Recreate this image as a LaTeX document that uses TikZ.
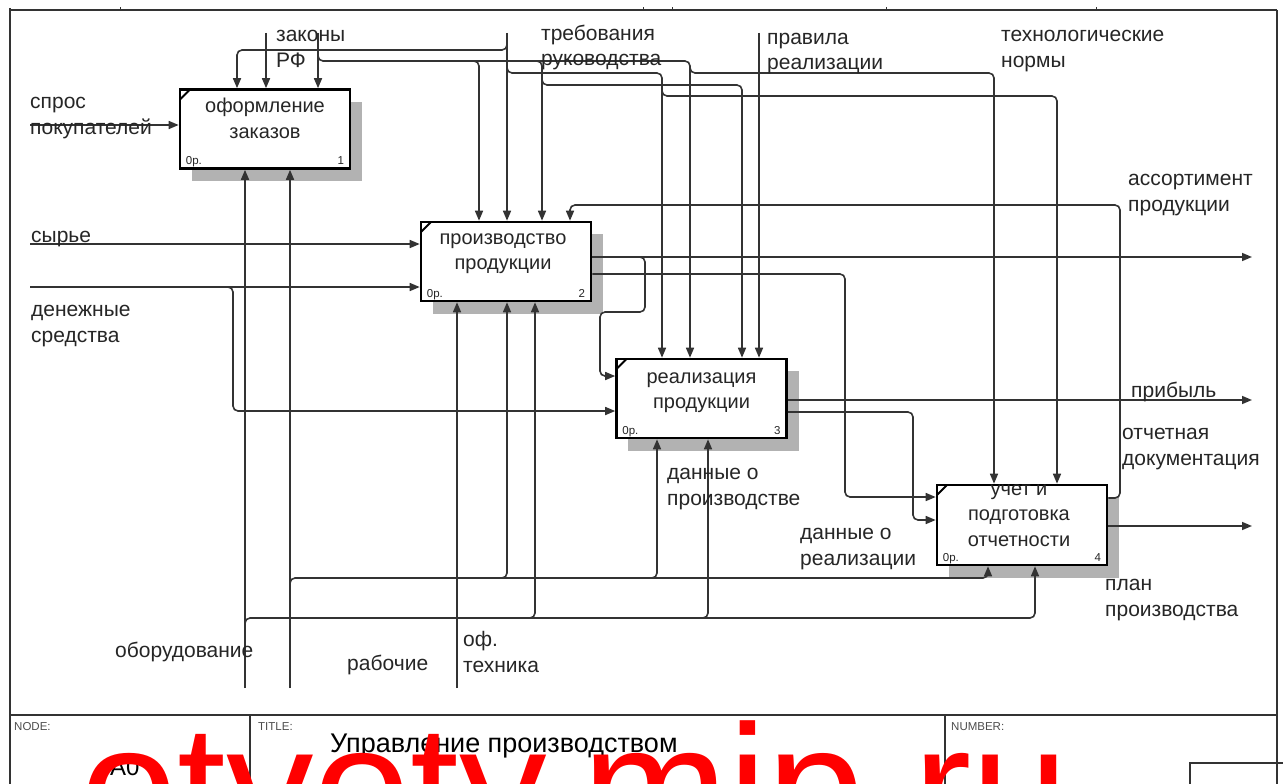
\documentclass[tikz,border=0pt]{standalone}
\usepackage{fontspec}
\setmainfont{Liberation Sans}
\usetikzlibrary{arrows.meta,patterns,calc}
\newcommand{\lblfont}{\fontsize{21}{25.5}\selectfont}
\newcommand{\boxfont}{\fontsize{20}{25.5}\selectfont}
\newcommand{\numfont}{\fontsize{11.5}{13}\selectfont}
\begin{document}
\begin{tikzpicture}[x=1pt,y=-1pt,
  box/.style={draw=black, line width=2.6pt, fill=white, minimum width=170pt, minimum height=79pt, inner sep=0pt},
  con/.style={draw=black!80, line width=1.6pt, rounded corners=5pt},
  arr/.style={con, -{Triangle[length=10pt,width=8pt]}},
  lbl/.style={font=\lblfont, text=black!85, inner sep=0pt, anchor=base west, align=left},
  btxt/.style={font=\boxfont, text=black!85, inner sep=0pt, anchor=base, align=center},
  num/.style={font=\numfont, text=black!85, inner sep=0pt},
  shadow/.style={fill=black!30},
  frame/.style={draw=black!80, line width=2pt}
]
\useasboundingbox (0,0) rectangle (1283,784);
\clip (0,0) rectangle (1283,784);
\fill[white] (0,0) rectangle (1283,784);

% frame
\draw[frame] (10,10) -- (1277,10);
\draw[frame, line width=2.6pt] (10,8) -- (10,784);
\draw[frame] (1277,10) -- (1277,784);
\foreach \tx in {120,643,672,886,1096} \draw[frame, line width=1pt] (\tx,10) -- (\tx,7);

% free ends
\coordinate (sZ) at (266,33);
\coordinate (sZ2) at (318,33);
\coordinate (sT) at (507,33);
\coordinate (sP) at (759,33);
\coordinate (iS) at (30,125);
\coordinate (iR) at (30,244);
\coordinate (iD) at (30,287);
\coordinate (oA) at (1252,257);
\coordinate (oP) at (1252,400);
\coordinate (oO) at (1252,526);
\coordinate (mO) at (245,688);
\coordinate (mR) at (290,688);
\coordinate (mT) at (457,688);

% shadows
\fill[shadow] (192,102) rectangle (362,181);
\fill[shadow] (433,234) rectangle (603,314);
\fill[shadow] (628,371) rectangle (799,451);
\fill[shadow] (949,497) rectangle (1119,578);

% boxes
\node[box] (b1) at (265,129) {};
\node[box] (b2) at (506,261.5) {};
\node[box] (b3) at (701.5,398.5) {};
\node[box, minimum height=80pt] (b4) at (1022,525) {};
\foreach \b in {b1,b2,b3,b4} {
  \draw[line width=2pt] ($(\b.north west)+(1.3,11.3)$) -- ($(\b.north west)+(11.3,1.3)$);
}

% box texts
\node[btxt] (t1) at ($(b1.center)+(0,9)$) {оформление\\заказов};
\node[btxt] (t2) at ($(b2.center)+(-3,8)$) {производство\\продукции};
\node[btxt] (t3) at ($(b3.center)+(0,10)$) {реализация\\продукции};
\node[btxt] (t4) at ($(b4.center)+(-3,21)$) {учет и\\подготовка\\отчетности};
\foreach \b/\n in {b1/1,b2/2,b3/3,b4/4} {
  \node[num, anchor=base west] (\b z) at ($(\b.south west)+(7,-5)$) {0р.};
  \node[num, anchor=base east] (\b n) at ($(\b.south east)+(-7,-5)$) {\n};
}

% controls
\draw[arr] (sZ) -- ($(b1.north)+(1,0)$);
\draw[arr] (sZ2) -- ($(b1.north)+(53,0)$);
\draw[arr] (318,55) |- (690,61) -- ($(b3.north)+(-11.5,0)$);
\draw[arr] (472,61) -| ($(b2.north)+(-27,0)$);
\draw[arr] (535,61) -| ($(b2.north)+(36,0)$);
\draw[arr] (690,66) |- (994,73) -- ($(b4.north)+(-28,0)$);
\draw[arr] (sT) -- ($(b2.north)+(1,0)$);
\draw[arr] (507,38) |- (237,50) -- ($(b1.north)+(-28,0)$);
\draw[arr] (507,66) |- (662,73) -- ($(b3.north)+(-39.5,0)$);
\draw[arr] (662,89) |- (1057,96) -- ($(b4.north)+(35,0)$);
\draw[arr] (542,78) |- (742,85) -- ($(b3.north)+(40.5,0)$);
\draw[arr] (sP) -- ($(b3.north)+(57.5,0)$);

% feedback
\draw[arr] ($(b4.east)+(0,-27)$) -| (1120,205) -| ($(b2.north)+(64,0)$);

% outputs
\draw[arr] ($(b2.east)+(0,-4.5)$) -- (oA);
\draw[arr] (636,257) -| (645,312) -| (600,376) -- ($(b3.west)+(0,-22.5)$);
\draw[arr] ($(b2.east)+(0,12.5)$) -| (845,497) -- ($(b4.west)+(0,-28)$);
\draw[arr] ($(b3.east)+(0,1.5)$) -- (oP);
\draw[arr] ($(b3.east)+(0,13.5)$) -| (913,520) -- ($(b4.west)+(0,-5)$);
\draw[arr] ($(b4.east)+(0,1)$) -- (oO);

% inputs
\draw[arr] (iS) -- ($(b1.west)+(0,-4)$);
\draw[arr] (iR) -- ($(b2.west)+(0,-17.5)$);
\draw[arr] (iD) -- ($(b2.west)+(0,25.5)$);
\draw[arr] (226,287) -| (233,411) -- ($(b3.west)+(0,12.5)$);

% mechanisms
\draw[arr] (mO) -- ($(b1.south)+(-20,0)$);
\draw[arr] (245,625) |- (1035,618) -- ($(b4.south)+(13,0)$);
\draw[arr] (528,618) -| ($(b2.south)+(29,0)$);
\draw[arr] (700,618) -| ($(b3.south)+(6.5,0)$);
\draw[arr] (mR) -- ($(b1.south)+(25,0)$);
\draw[arr] (290,585) |- (988,578) -- ($(b4.south)+(-34,0)$);
\draw[arr] (500,578) -| ($(b2.south)+(1,0)$);
\draw[arr] (649,578) -| ($(b3.south)+(-44.5,0)$);
\draw[arr] (mT) -- ($(b2.south)+(-49,0)$);

% labels (anchor = baseline of last line)
\node[lbl] (lz) at (276,67) {законы\\РФ};
\node[lbl] (lt) at (541,66) {требования\\руководства};
\node[lbl] (lp) at (767,70) {правила\\реализации};
\node[lbl] (ln) at (1001,67) {технологические\\нормы};
\node[lbl] (ls) at (30,134) {спрос\\покупателей};
\node[lbl] (lr) at (31,242) {сырье};
\node[lbl] (ld) at (31,342) {денежные\\средства};
\node[lbl] (la) at (1128,211) {ассортимент\\продукции};
\node[lbl] (lpr) at (1131,397) {прибыль};
\node[lbl] (lo) at (1122,465) {отчетная\\документация};
\node[lbl] (lpl) at (1105,616) {план\\производства};
\node[lbl] (ldp) at (667,505) {данные о\\производстве};
\node[lbl] (ldr) at (800,565) {данные о\\реализации};
\node[lbl] (lob) at (115,657) {оборудование};
\node[lbl] (lrb) at (347,670) {рабочие};
\node[lbl] (lof) at (463,672) {оф.\\техника};

% title block
\draw[frame] (10,715) -- (1277,715);
\draw[frame] (250,715) -- (250,784);
\draw[frame] (945,715) -- (945,784);
\draw[frame] (1190,763) rectangle (1290,795);
\node[num, anchor=base west, text=black!70] (kn) at (14,730) {NODE:};
\node[num, anchor=base west, text=black!70] (kt) at (258,730) {TITLE:};
\node[num, anchor=base west, text=black!70] (kb) at (951,730) {NUMBER:};
\node[anchor=base west, inner sep=0pt, text=black, font=\fontsize{27}{29}\selectfont] (ttl) at (330,752) {Управление производством};
\node[anchor=base west, inner sep=0pt, font=\fontsize{24}{26}\selectfont] (nd) at (110,775) {A0};

% watermark
\node[anchor=base west, inner sep=0pt, text=red, font=\fontsize{175}{175}\selectfont] (wm) at (80,847) {otvoty.mip.ru};
\end{tikzpicture}
\end{document}
